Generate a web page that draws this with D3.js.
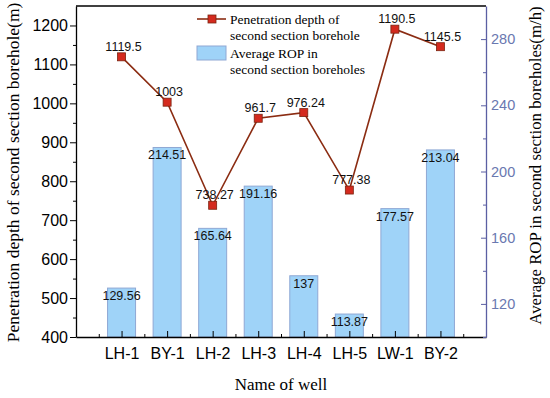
<!DOCTYPE html>
<html>
<head>
<meta charset="utf-8">
<script src="https://cdn.jsdelivr.net/npm/d3@7"></script>
<style>
  body { margin: 0; background: #fff; }
  svg { display: block; }
  .tick text { font-family: "Liberation Sans", Arial, sans-serif; }
  .serif { font-family: "Liberation Serif", "Times New Roman", serif; }
</style>
</head>
<body>
<svg id="chart"></svg>
<script>
var wells = ["LH-1", "BY-1", "LH-2", "LH-3", "LH-4", "LH-5", "LW-1", "BY-2"];
var depth = [1119.5, 1003, 738.27, 961.7, 976.24, 777.38, 1190.5, 1145.5];
var depthLabels = ["1119.5", "1003", "738.27", "961.7", "976.24", "777.38", "1190.5", "1145.5"];
var rop = [129.56, 214.51, 165.64, 191.16, 137, 113.87, 177.57, 213.04];
var ropLabels = ["129.56", "214.51", "165.64", "191.16", "137", "113.87", "177.57", "213.04"];
var leftTicks = [400, 500, 600, 700, 800, 900, 1000, 1100, 1200];
var rightTicks = [120, 160, 200, 240, 280];

var W = 550, H = 398;
var margin = { left: 76, right: 64, top: 6, bottom: 61 };
var svg = d3.select("#chart").attr("width", W).attr("height", H);

var x = d3.scaleLinear().domain([0, 9]).range([margin.left, W - margin.right]);
var yL = d3.scaleLinear().domain([400, 1250]).range([H - margin.bottom, margin.top]);
var yR = d3.scaleLinear().domain([100, 300]).range([H - margin.bottom, margin.top]);
var axisBlue = "#5b5fa3";

// bars
var bw = 28;
svg.append("g").selectAll("rect")
  .data(rop)
  .enter()
  .append("rect")
  .attr("x", (d, i) => x(i + 1) - bw / 2)
  .attr("y", d => yR(d))
  .attr("width", bw)
  .attr("height", d => yR(100) - yR(d))
  .attr("fill", "#9fd3f8")
  .attr("stroke", "#8fa8d4")
  .attr("stroke-width", 1);

svg.append("g").selectAll("text")
  .data(rop)
  .enter()
  .append("text")
  .attr("x", (d, i) => x(i + 1))
  .attr("y", d => yR(d) + 12)
  .attr("text-anchor", "middle")
  .style("font-family", "Liberation Sans, Arial, sans-serif")
  .style("font-size", "12.5px")
  .attr("fill", "#111")
  .text((d, i) => ropLabels[i]);

// frame top
svg.append("line")
  .attr("x1", x(0)).attr("x2", x(9))
  .attr("y1", margin.top).attr("y2", margin.top)
  .attr("stroke", "#000").attr("stroke-width", 1.3);

// x axis
var gx = svg.append("g").attr("transform", `translate(0,${H - margin.bottom})`);
gx.call(d3.axisBottom(x).tickValues(d3.range(0.5, 9, 1)).tickSize(-3).tickFormat(""));
gx.call(g => g.select(".domain").remove());
var gx2 = svg.append("g").attr("transform", `translate(0,${H - margin.bottom})`);
gx2.call(d3.axisBottom(x).tickValues(d3.range(1, 9)).tickSizeInner(-6).tickSizeOuter(0)
  .tickFormat(d => wells[d - 1]));
gx2.select(".domain").attr("stroke-width", 1.3);
gx2.selectAll(".tick text").attr("dy", "1.2em").style("font-size", "16px").attr("fill", "#000");
svg.selectAll(".tick line").attr("stroke", "#000");

// left axis
var gl = svg.append("g").attr("transform", `translate(${margin.left},0)`);
gl.call(d3.axisLeft(yL).tickValues(d3.range(450, 1250, 100)).tickSize(3).tickFormat(""));
gl.select(".domain").remove();
var gl2 = svg.append("g").attr("transform", `translate(${margin.left},0)`);
gl2.call(d3.axisLeft(yL).tickValues(leftTicks).tickSizeInner(6).tickSizeOuter(0).tickFormat(d3.format("d")));
gl2.select(".domain").attr("stroke-width", 1.3);
gl2.selectAll(".tick text").style("font-size", "16px").attr("fill", "#000").attr("x", -8);

// right axis
var gr = svg.append("g").attr("transform", `translate(${W - margin.right},0)`);
gr.call(d3.axisRight(yR).tickValues(d3.range(100, 300, 20).filter(v => v % 40 != 0)).tickSize(-3).tickFormat(""));
gr.select(".domain").remove();
gr.selectAll("line").attr("stroke", axisBlue);
var gr2 = svg.append("g").attr("transform", `translate(${W - margin.right},0)`);
gr2.call(d3.axisRight(yR).tickValues(rightTicks).tickSizeInner(-5).tickSizeOuter(0));
gr2.select(".domain").attr("stroke", axisBlue).attr("stroke-width", 1.3);
gr2.selectAll("line").attr("stroke", axisBlue);
gr2.selectAll(".tick text").style("font-size", "14.5px").attr("fill", "#6a78b0").attr("x", 5);

// line series
var line = d3.line().x((d, i) => x(i + 1)).y(d => yL(d));
svg.append("path")
  .datum(depth)
  .attr("d", line)
  .attr("fill", "none")
  .attr("stroke", "#8b2c12")
  .attr("stroke-width", 1.6);

svg.append("g").selectAll("rect")
  .data(depth)
  .enter()
  .append("rect")
  .attr("x", (d, i) => x(i + 1) - 4)
  .attr("y", d => yL(d) - 4)
  .attr("width", 8)
  .attr("height", 8)
  .attr("fill", "#d42a1e")
  .attr("stroke", "#7a2410")
  .attr("stroke-width", 0.8);

svg.append("g").selectAll("text")
  .data(depth)
  .enter()
  .append("text")
  .attr("x", (d, i) => x(i + 1) + 2)
  .attr("y", d => yL(d) - 6)
  .attr("text-anchor", "middle")
  .style("font-family", "Liberation Sans, Arial, sans-serif")
  .style("font-size", "12.5px")
  .attr("fill", "#111")
  .text((d, i) => depthLabels[i]);

// legend
var lg = svg.append("g").attr("class", "serif").style("font-size", "13.5px");
lg.append("line").attr("x1", 197).attr("x2", 226).attr("y1", 19).attr("y2", 19)
  .attr("stroke", "#8b2c12").attr("stroke-width", 1.6);
lg.append("rect").attr("x", 208).attr("y", 15).attr("width", 8).attr("height", 8)
  .attr("fill", "#d42a1e").attr("stroke", "#7a2410").attr("stroke-width", 0.8);
lg.append("text").attr("x", 230).attr("y", 24).text("Penetration depth of");
lg.append("text").attr("x", 230).attr("y", 40).text("second section borehole");
lg.append("rect").attr("x", 197).attr("y", 46).attr("width", 29).attr("height", 14)
  .attr("fill", "#9fd3f8").attr("stroke", "#8fa8d4");
lg.append("text").attr("x", 230).attr("y", 58).text("Average ROP in");
lg.append("text").attr("x", 230).attr("y", 74).text("second section boreholes");

// axis titles
svg.append("text").attr("class", "serif")
  .attr("transform", `translate(19,${(margin.top + H - margin.bottom) / 2 + 1}) rotate(-90)`)
  .attr("text-anchor", "middle").style("font-size", "17.5px")
  .text("Penetration depth of second section borehole(m)");
svg.append("text").attr("class", "serif")
  .attr("transform", `translate(541,${(margin.top + H - margin.bottom) / 2 - 6}) rotate(-90)`)
  .attr("text-anchor", "middle").style("font-size", "16.8px")
  .text("Average ROP in second section boreholes(m/h)");
svg.append("text").attr("class", "serif")
  .attr("x", (x(0) + x(9)) / 2).attr("y", 390)
  .attr("text-anchor", "middle").style("font-size", "17px")
  .text("Name of well");
</script>
</body>
</html>
